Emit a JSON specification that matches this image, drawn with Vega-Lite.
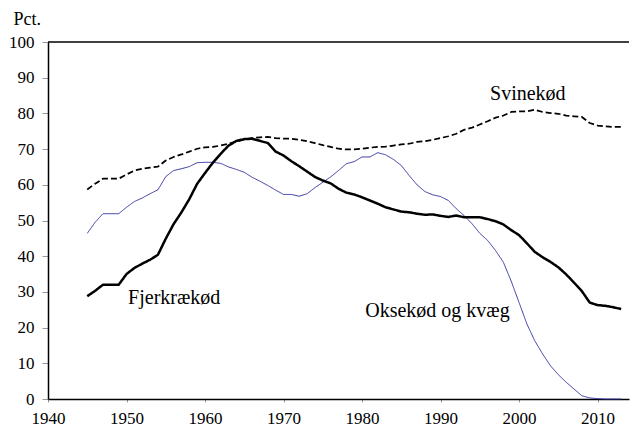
{
  "$schema": "https://vega.github.io/schema/vega-lite/v6.json",
  "width": 581,
  "height": 357,
  "autosize": "none",
  "padding": {"left": 48, "top": 42, "right": 1, "bottom": 28},
  "background": "white",
  "config": {
    "view": {"stroke": null},
    "font": "Liberation Serif",
    "axis": {
      "labelFont": "Liberation Serif", "labelFontSize": 17, "labelColor": "black",
      "labelOverlap": false, "labelPadding": 8, "labelFlush": false, "labelBound": false,
      "domainColor": "black", "domainWidth": 1.5,
      "tickColor": "#999999", "tickWidth": 1, "grid": false,
      "titleFont": "Liberation Serif", "titleFontSize": 18, "titleFontWeight": "normal", "titleColor": "black"
    },
    "axisX": {"tickSize": 3},
    "axisY": {"tickSize": 6}
  },
  "datasets": {
    "series": [
      {"year": 1945, "Svinekød": 58.7, "Fjerkrækød": 28.8, "Oksekød og kvæg": 46.4},
      {"year": 1946, "Svinekød": 60.3, "Fjerkrækød": 30.3, "Oksekød og kvæg": 49.5},
      {"year": 1947, "Svinekød": 61.7, "Fjerkrækød": 32.0, "Oksekød og kvæg": 51.9},
      {"year": 1948, "Svinekød": 61.7, "Fjerkrækød": 32.0, "Oksekød og kvæg": 51.9},
      {"year": 1949, "Svinekød": 61.7, "Fjerkrækød": 32.0, "Oksekød og kvæg": 51.9},
      {"year": 1950, "Svinekød": 62.9, "Fjerkrækød": 35.0, "Oksekød og kvæg": 53.7},
      {"year": 1951, "Svinekød": 64.0, "Fjerkrækød": 36.7, "Oksekød og kvæg": 55.3},
      {"year": 1952, "Svinekød": 64.5, "Fjerkrækød": 37.9, "Oksekød og kvæg": 56.3},
      {"year": 1953, "Svinekød": 64.8, "Fjerkrækød": 39.0, "Oksekød og kvæg": 57.5},
      {"year": 1954, "Svinekød": 65.1, "Fjerkrækød": 40.4, "Oksekød og kvæg": 58.6},
      {"year": 1955, "Svinekød": 66.8, "Fjerkrækød": 44.9, "Oksekød og kvæg": 62.3},
      {"year": 1956, "Svinekød": 67.8, "Fjerkrækød": 49.0, "Oksekød og kvæg": 64.0},
      {"year": 1957, "Svinekød": 68.5, "Fjerkrækød": 52.3, "Oksekød og kvæg": 64.5},
      {"year": 1958, "Svinekød": 69.3, "Fjerkrækød": 56.0, "Oksekød og kvæg": 65.1},
      {"year": 1959, "Svinekød": 70.1, "Fjerkrækød": 60.3, "Oksekød og kvæg": 66.2},
      {"year": 1960, "Svinekød": 70.5, "Fjerkrækød": 63.3, "Oksekød og kvæg": 66.3},
      {"year": 1961, "Svinekød": 70.6, "Fjerkrækød": 66.2, "Oksekød og kvæg": 66.3},
      {"year": 1962, "Svinekød": 71.0, "Fjerkrækød": 68.7, "Oksekød og kvæg": 66.0},
      {"year": 1963, "Svinekød": 71.5, "Fjerkrækød": 71.0, "Oksekød og kvæg": 65.0},
      {"year": 1964, "Svinekød": 72.1, "Fjerkrækød": 72.3, "Oksekød og kvæg": 64.3},
      {"year": 1965, "Svinekød": 72.7, "Fjerkrækød": 72.8, "Oksekød og kvæg": 63.5},
      {"year": 1966, "Svinekød": 73.1, "Fjerkrækød": 72.9, "Oksekød og kvæg": 62.1},
      {"year": 1967, "Svinekød": 73.3, "Fjerkrækød": 72.3, "Oksekød og kvæg": 61.0},
      {"year": 1968, "Svinekød": 73.4, "Fjerkrækød": 71.7, "Oksekød og kvæg": 59.8},
      {"year": 1969, "Svinekød": 73.1, "Fjerkrækød": 69.3, "Oksekød og kvæg": 58.5},
      {"year": 1970, "Svinekød": 72.9, "Fjerkrækød": 68.2, "Oksekød og kvæg": 57.3},
      {"year": 1971, "Svinekød": 72.9, "Fjerkrækød": 66.6, "Oksekød og kvæg": 57.3},
      {"year": 1972, "Svinekød": 72.6, "Fjerkrækød": 65.2, "Oksekød og kvæg": 56.8},
      {"year": 1973, "Svinekød": 72.2, "Fjerkrækød": 63.7, "Oksekød og kvæg": 57.5},
      {"year": 1974, "Svinekød": 71.7, "Fjerkrækød": 62.2, "Oksekød og kvæg": 59.2},
      {"year": 1975, "Svinekød": 71.1, "Fjerkrækød": 61.2, "Oksekød og kvæg": 60.7},
      {"year": 1976, "Svinekød": 70.6, "Fjerkrækød": 60.4, "Oksekød og kvæg": 62.2},
      {"year": 1977, "Svinekød": 70.1, "Fjerkrækød": 58.9, "Oksekød og kvæg": 64.0},
      {"year": 1978, "Svinekød": 69.9, "Fjerkrækød": 57.8, "Oksekød og kvæg": 65.9},
      {"year": 1979, "Svinekød": 69.9, "Fjerkrækød": 57.3, "Oksekød og kvæg": 66.5},
      {"year": 1980, "Svinekød": 70.1, "Fjerkrækød": 56.5, "Oksekød og kvæg": 67.8},
      {"year": 1981, "Svinekød": 70.4, "Fjerkrækød": 55.6, "Oksekød og kvæg": 67.8},
      {"year": 1982, "Svinekød": 70.6, "Fjerkrækød": 54.7, "Oksekød og kvæg": 69.0},
      {"year": 1983, "Svinekød": 70.7, "Fjerkrækød": 53.7, "Oksekød og kvæg": 68.4},
      {"year": 1984, "Svinekød": 71.0, "Fjerkrækød": 53.1, "Oksekød og kvæg": 67.1},
      {"year": 1985, "Svinekød": 71.3, "Fjerkrækød": 52.5, "Oksekød og kvæg": 65.4},
      {"year": 1986, "Svinekød": 71.5, "Fjerkrækød": 52.3, "Oksekød og kvæg": 62.6},
      {"year": 1987, "Svinekød": 72.0, "Fjerkrækød": 51.9, "Oksekød og kvæg": 60.0},
      {"year": 1988, "Svinekød": 72.2, "Fjerkrækød": 51.6, "Oksekød og kvæg": 58.1},
      {"year": 1989, "Svinekød": 72.6, "Fjerkrækød": 51.7, "Oksekød og kvæg": 57.2},
      {"year": 1990, "Svinekød": 73.1, "Fjerkrækød": 51.3, "Oksekød og kvæg": 56.7},
      {"year": 1991, "Svinekød": 73.6, "Fjerkrækød": 51.0, "Oksekød og kvæg": 55.6},
      {"year": 1992, "Svinekød": 74.3, "Fjerkrækød": 51.4, "Oksekød og kvæg": 53.3},
      {"year": 1993, "Svinekød": 75.4, "Fjerkrækød": 50.9, "Oksekød og kvæg": 51.4},
      {"year": 1994, "Svinekød": 76.0, "Fjerkrækød": 50.9, "Oksekød og kvæg": 49.1},
      {"year": 1995, "Svinekød": 76.9, "Fjerkrækød": 50.9, "Oksekød og kvæg": 46.4},
      {"year": 1996, "Svinekød": 77.8, "Fjerkrækød": 50.4, "Oksekød og kvæg": 44.4},
      {"year": 1997, "Svinekød": 78.8, "Fjerkrækød": 49.8, "Oksekød og kvæg": 41.6},
      {"year": 1998, "Svinekød": 79.4, "Fjerkrækød": 48.9, "Oksekød og kvæg": 38.3},
      {"year": 1999, "Svinekød": 80.4, "Fjerkrækød": 47.3, "Oksekød og kvæg": 33.0},
      {"year": 2000, "Svinekød": 80.6, "Fjerkrækød": 45.9, "Oksekød og kvæg": 27.0},
      {"year": 2001, "Svinekød": 80.6, "Fjerkrækød": 43.6, "Oksekød og kvæg": 21.0},
      {"year": 2002, "Svinekød": 81.0, "Fjerkrækød": 41.2, "Oksekød og kvæg": 16.3},
      {"year": 2003, "Svinekød": 80.4, "Fjerkrækød": 39.7, "Oksekød og kvæg": 12.6},
      {"year": 2004, "Svinekød": 80.1, "Fjerkrækød": 38.4, "Oksekød og kvæg": 9.3},
      {"year": 2005, "Svinekød": 79.9, "Fjerkrækød": 36.9, "Oksekød og kvæg": 6.8},
      {"year": 2006, "Svinekød": 79.4, "Fjerkrækød": 34.9, "Oksekød og kvæg": 4.7},
      {"year": 2007, "Svinekød": 79.2, "Fjerkrækød": 32.6, "Oksekød og kvæg": 2.8},
      {"year": 2008, "Svinekød": 79.0, "Fjerkrækød": 30.2, "Oksekød og kvæg": 0.9},
      {"year": 2009, "Svinekød": 77.3, "Fjerkrækød": 27.0, "Oksekød og kvæg": 0.3},
      {"year": 2010, "Svinekød": 76.6, "Fjerkrækød": 26.3, "Oksekød og kvæg": 0.1},
      {"year": 2011, "Svinekød": 76.4, "Fjerkrækød": 26.1, "Oksekød og kvæg": 0.0},
      {"year": 2012, "Svinekød": 76.2, "Fjerkrækød": 25.7, "Oksekød og kvæg": 0.0},
      {"year": 2013, "Svinekød": 76.2, "Fjerkrækød": 25.2, "Oksekød og kvæg": 0.0}
    ],
    "labels": [
      {"label": "Svinekød", "year": 1996.3, "pct": 83.8},
      {"label": "Fjerkrækød", "year": 1950.2, "pct": 26.6},
      {"label": "Oksekød og kvæg", "year": 1980.4, "pct": 23.1}
    ]
  },
  "encoding": {
    "x": {
      "field": "year", "type": "quantitative",
      "scale": {"domain": [1940, 2014], "nice": false, "zero": false},
      "axis": {
        "values": [1940, 1950, 1960, 1970, 1980, 1990, 2000, 2010],
        "format": "d", "title": null, "labelOverlap": false
      }
    },
    "y": {
      "field": "pct", "type": "quantitative",
      "scale": {"domain": [0, 100], "nice": false},
      "axis": {
        "values": [0, 10, 20, 30, 40, 50, 60, 70, 80, 90, 100],
        "tickCount": 11, "labelOverlap": false,
        "title": "Pct.", "titleAngle": 0, "titleAlign": "left", "titleBaseline": "alphabetic",
        "titleX": -35, "titleY": -18
      }
    }
  },
  "layer": [
    {
      "data": {"name": "series"},
      "transform": [{"fold": ["Oksekød og kvæg", "Svinekød", "Fjerkrækød"], "as": ["serie", "pct"]}],
      "mark": {"type": "line", "strokeJoin": "round", "strokeCap": "butt"},
      "encoding": {
        "color": {
          "field": "serie", "type": "nominal",
          "scale": {"domain": ["Oksekød og kvæg", "Svinekød", "Fjerkrækød"], "range": ["#3535a5", "black", "black"]},
          "legend": null
        },
        "strokeDash": {
          "field": "serie", "type": "nominal",
          "scale": {"domain": ["Oksekød og kvæg", "Svinekød", "Fjerkrækød"], "range": [[1, 0], [6, 3], [1, 0]]},
          "legend": null
        },
        "strokeWidth": {
          "field": "serie", "type": "nominal",
          "scale": {"domain": ["Oksekød og kvæg", "Svinekød", "Fjerkrækød"], "range": [1, 2.5, 3]},
          "legend": null
        }
      }
    },
    {
      "data": {"name": "labels"},
      "mark": {"type": "text", "align": "left", "baseline": "alphabetic", "fontSize": 20, "font": "Liberation Serif", "color": "black"},
      "encoding": {
        "text": {"field": "label"}
      }
    },
    {
      "data": {"values": [{"top": 100}]},
      "mark": {"type": "rule", "color": "black", "strokeWidth": 1.5},
      "encoding": {"x": null, "y": {"field": "top", "type": "quantitative"}}
    }
  ]
}
